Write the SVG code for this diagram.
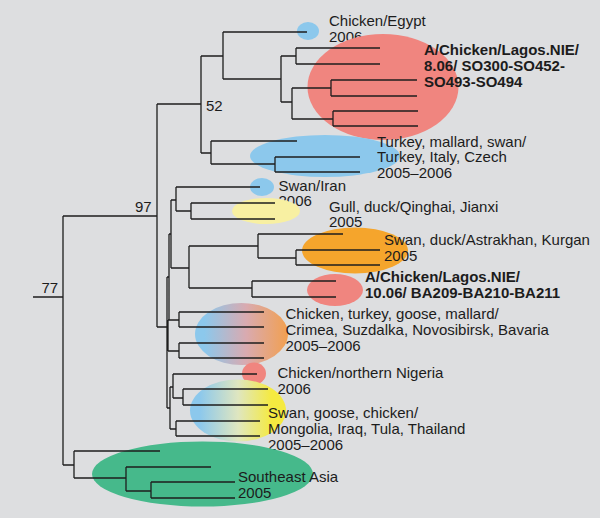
<svg xmlns="http://www.w3.org/2000/svg" width="600" height="518" viewBox="0 0 600 518">
<defs>
<linearGradient id="gBO" x1="0" y1="0" x2="1" y2="0"><stop offset="0.1" stop-color="#8cc8ec"/><stop offset="0.55" stop-color="#d9aab0"/><stop offset="1" stop-color="#f2a050"/></linearGradient>
<linearGradient id="gBY" x1="0" y1="0" x2="1" y2="0"><stop offset="0.1" stop-color="#8cc8ec"/><stop offset="0.5" stop-color="#dfe6c0"/><stop offset="0.85" stop-color="#f5ea40"/></linearGradient>
<style>
.t{font-family:"Liberation Sans",Arial,sans-serif;font-size:15px;fill:#1c1c1c}
.b{font-weight:bold}
.br{fill:none;stroke:#1e1e1e;stroke-width:1.3}
.blue{fill:#8cc8ec}.red{fill:#f0857f}.yel{fill:#f8f0a2}.org{fill:#f5a52c}.grn{fill:#46b98b}
</style>
</defs>
<rect width="600" height="518" fill="#dddee0"/>
<g id="clade-egypt"><ellipse class="blue" cx="308" cy="31" rx="11" ry="9"/><text class="t" x="329" y="26">Chicken/Egypt</text><text class="t" x="329" y="42">2006</text></g>
<g id="clade-lagos-so"><ellipse class="red" cx="383" cy="87" rx="75.5" ry="53"/><text class="t b" x="424" y="55">A/Chicken/Lagos.NIE/</text><text class="t b" x="424" y="71">8.06/ SO300-SO452-</text><text class="t b" x="424" y="87">SO493-SO494</text></g>
<g id="clade-turkey"><ellipse class="blue" cx="325" cy="156" rx="75" ry="21"/><text class="t" x="377" y="146.5">Turkey, mallard, swan/</text><text class="t" x="377" y="162">Turkey, Italy, Czech</text><text class="t" x="377" y="177.5">2005–2006</text></g>
<g id="clade-iran"><ellipse class="blue" cx="262" cy="187" rx="12" ry="9"/><text class="t" x="278.5" y="190.5">Swan/Iran</text><text class="t" x="278.5" y="206">2006</text></g>
<g id="clade-qinghai"><ellipse class="yel" cx="266" cy="211" rx="34" ry="13"/><text class="t" x="329" y="211.5">Gull, duck/Qinghai, Jianxi</text><text class="t" x="329" y="227">2005</text></g>
<g id="clade-astrakhan"><ellipse class="org" cx="355" cy="250.5" rx="53" ry="23"/><text class="t" x="384" y="245">Swan, duck/Astrakhan, Kurgan</text><text class="t" x="384" y="260.5">2005</text></g>
<g id="clade-lagos-ba"><ellipse class="red" cx="335" cy="290" rx="28" ry="16"/><text class="t b" x="365" y="281.5">A/Chicken/Lagos.NIE/</text><text class="t b" x="365" y="297.5">10.06/ BA209-BA210-BA211</text></g>
<g id="clade-crimea"><ellipse fill="url(#gBO)" cx="241.5" cy="334" rx="46.5" ry="31"/><text class="t" x="285.5" y="318.5">Chicken, turkey, goose, mallard/</text><text class="t" x="285.5" y="334.5">Crimea, Suzdalka, Novosibirsk, Bavaria</text><text class="t" x="285.5" y="351">2005–2006</text></g>
<g id="clade-nigeria"><ellipse class="red" cx="254" cy="373.5" rx="12" ry="11"/><text class="t" x="277.5" y="377.5">Chicken/northern Nigeria</text><text class="t" x="277.5" y="393.5">2006</text></g>
<g id="clade-mongolia"><ellipse fill="url(#gBY)" cx="238" cy="410.5" rx="48" ry="31"/><text class="t" x="268" y="417.5">Swan, goose, chicken/</text><text class="t" x="268" y="433.5">Mongolia, Iraq, Tula, Thailand</text><text class="t" x="268" y="449.5">2005–2006</text></g>
<g id="clade-seasia"><ellipse class="grn" cx="202.5" cy="474" rx="110.5" ry="32.5"/><text class="t" x="238" y="481.5">Southeast Asia</text><text class="t" x="238" y="497.5">2005</text></g>
<g id="bootstrap"><text class="t" x="41.5" y="293">77</text><text class="t" x="135" y="211.5">97</text><text class="t" x="206" y="110.5">52</text></g>
<g id="connectors">
<path class="br" d="M33,297H63M63,216V465M63,216H157M63,465H74
M157,104V327M157,104H201M157,327H167
M201,56V153M201,56H223M201,153H211
M223,32V79M223,32H307M223,79H281
M281,56V102M281,56H296M281,102H292
M296,48V64M296,48H380M296,64H380
M292,88V119M292,88H331M292,119H333
M331,80V96M331,80H417M331,96H417
M333,111V126M333,111H418M333,126H418
M211,141V164M211,141H297M211,164H275
M275,157V172M275,157H360M275,172H360"/>
<path class="br" d="M171,200V268M171,200H176M171,268H189
M176,187V211M176,187H260M176,211H191
M191,203V219M191,203H275M191,219H275
M189,246V288M189,246H258M189,288H252
M258,234V258M258,234H343M258,258H296
M296,250V265M296,250H380M296,265H380
M252,281V297M252,281H336M252,297H336
M169,234V320M169,234H171
M168,320V351M168,320H179M168,351H179
M179,312V327M179,312H264M179,327H264
M179,343V358M179,343H264M179,358H264
M167,277V408M167,277H169M167,408H170
M170,387V429M170,429H176M170,387H173
M173,374V398M173,374H257M173,398H183
M183,389V405M183,389H268M183,405H268
M176,421V436M176,421H260M176,436H260
M74,451V478M74,451H160M74,478H126
M126,467V491M126,467H211M126,491H151
M151,482V498M151,482H235M151,498H235"/>
</g>
</svg>
